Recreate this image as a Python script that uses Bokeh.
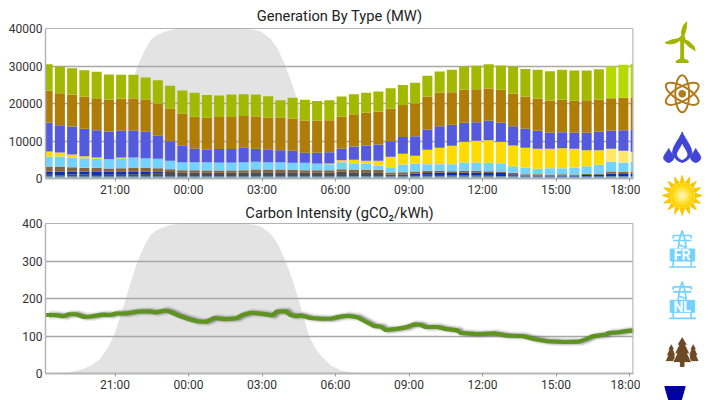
import numpy as np
from bokeh.plotting import figure
from bokeh.layouts import row, column
from bokeh.models import ColumnDataSource, FixedTicker, Span, Range1d
from bokeh.core.properties import value
from bokeh.embed import file_html
from bokeh.resources import INLINE

FONT = "Roboto"
tick_hours = [3, 6, 9, 12, 15, 18, 21, 24]
tick_labels = ["21:00", "00:00", "03:00", "06:00", "09:00", "12:00", "15:00", "18:00"]
bar_hours = [0.25, 0.75, 1.25, 1.75, 2.25, 2.75, 3.25, 3.75, 4.25, 4.75, 5.25, 5.75, 6.25, 6.75, 7.25, 7.75, 8.25,
             8.75, 9.25, 9.75, 10.25, 10.75, 11.25, 11.75, 12.25, 12.75, 13.25, 13.75, 14.25, 14.75, 15.25, 15.75,
             16.25, 16.75, 17.25, 17.75, 18.25, 18.75, 19.25, 19.75, 20.25, 20.75, 21.25, 21.75, 22.25, 22.75,
             23.25, 23.75, 24.25]

hydro = [550]*24 + [550]*15 + [500, 500, 450, 450, 450, 450, 450, 550, 550, 550]
coal = [450, 350, 520, 490, 390, 420, 460, 590, 640, 860, 1190, 1020, 1020, 960, 960, 980, 1050, 1100, 1150, 1150,
        1110, 1050, 1050, 1050, 1240, 1130, 1150, 1110, 500, 390, 370, 440, 390, 310, 290, 290, 160, 120, 160, 110,
        110, 120, 110, 70, 90, 80, 120, 80, 70]
pumped = [800, 950, 800, 800, 950, 800, 800, 700, 700, 400] + [0]*18 + [0, 150, 400, 500, 600, 600, 700, 700, 750, 800,
          400, 200, 200, 200, 150, 250, 400, 450, 600, 600, 650]
biomass = [1400, 1350, 1150, 1000, 950, 900, 950, 1000, 950, 950, 750, 650, 650, 620, 620, 600, 620, 750, 700, 700,
           650, 620, 620, 620, 700, 720, 700, 650, 550, 600, 550, 550, 500, 500, 500, 500, 500, 400, 400, 350, 350,
           300, 450, 300, 300, 350, 600, 550, 600]
imports = [2580, 2670, 2490, 2580, 2400, 2400, 2580, 2670, 2580, 2490, 2220, 2130, 2130, 2220, 2130, 2130, 2130, 2040,
           1960, 1960, 1870, 1960, 1780, 1600, 1870, 1690, 1510, 1070, 1420, 2040, 2040, 1780, 1780, 1870, 2220, 2220,
           2220, 2220, 1780, 1780, 1420, 1690, 1600, 1870, 2040, 2310, 2580, 2490, 2580]
solar = [1420, 1070, 890, 530, 360, 90, 270, 90] + [0]*15 + [180, 530, 890, 800, 1330, 2760, 2840, 2130, 3820, 4360,
         4890, 5510, 5780, 6050, 5690, 5510, 5250, 5330, 5160, 5330, 4980, 4270, 3910, 3470, 3110, 2670]
gas = [7650, 7290, 7470, 7290, 7290, 7380, 7110, 7200, 7020, 6130, 5250, 4360, 3560, 3290, 3640, 3640, 3820, 3470, 3290,
       3200, 3200, 2670, 2840, 3020, 3020, 3560, 4090, 4360, 4180, 4530, 5250, 5420, 5780, 5600, 5070, 4980, 5160, 5070,
       5160, 5070, 4800, 4270, 4270, 4270, 4620, 4890, 4800, 5510, 5870]
nuclear = [8530, 8530, 8530, 8530, 8530, 8450, 8530, 8530, 8530, 8530, 8620, 8530, 8530, 8530, 8530, 8530, 8530, 8620,
           8530, 8620, 8530, 8620, 8530, 8530, 8530, 8620, 8710, 8710, 8620, 8530, 8710, 8710, 8890, 8710, 8800, 8800,
           8620, 8800, 8710, 8530, 8530, 8620, 8620, 8530, 8710, 8530, 8710, 8620, 8620]
wind = [7110, 7110, 7020, 7110, 7020, 6760, 6400, 6310, 5960, 6310, 6130, 6220, 6400, 6130, 5690, 5960, 5780, 5870, 5780,
        4710, 5600, 5510, 5330, 5330, 5420, 5330, 5330, 5420, 5510, 5330, 5510, 5600, 5690, 5960, 6220, 6220, 6490, 6490,
        7200, 7380, 7730, 7820, 8000, 8090, 7910, 8180, 8450, 8800, 8980]

series_names = ["hydro", "coal", "pumped", "biomass", "imports", "solar", "gas", "nuclear", "wind"]
series_values = [hydro, coal, pumped, biomass, imports, solar, gas, nuclear, wind]
series_colors = ["#3f9bd6", "#4d4f52", "#0b2fb5", "#8a6538", "#73d2ff", "#ffdb00", "#535ade", "#b07c08", "#a3b800"]
forecast_colors = {"solar": "#ffe768", "wind": "#b6da00"}
forecast_bars = 3

day_hours = [0.18, 0.6, 1.05, 1.4, 1.73, 2.1, 2.41, 2.7, 2.95, 3.36, 3.65, 3.91, 4.2, 4.45, 4.7, 5.0, 5.3, 5.67, 6.2,
             7.85, 8.4, 8.67, 8.95, 9.35, 9.65, 9.96, 10.25, 10.48, 10.7, 10.92, 11.15, 11.39, 11.8, 12.2, 12.88, 13.5,
             24.2]
day_level = [0, 1, 3, 7, 13, 24, 40, 68, 100, 182, 245, 298, 340, 369, 382, 391, 397, 400, 400, 400, 399, 397, 392, 373,
             345, 300, 248, 200, 150, 100, 70, 49, 22, 9, 1, 0, 0]

ci_hours = [0.18, 0.5, 0.91, 1.11, 1.39, 1.73, 2.0, 2.48, 2.82, 3.02, 3.43, 3.91, 4.32, 4.65, 5.06, 5.27, 5.61, 5.96,
            6.36, 6.7, 6.89, 7.05, 7.46, 7.94, 8.19, 8.53, 9.01, 9.42, 9.59, 9.96, 10.16, 10.37, 10.57, 10.98, 11.39,
            11.8, 12.13, 12.48, 12.89, 13.29, 13.56, 13.84, 14.04, 14.52, 14.93, 15.19, 15.47, 15.67, 16.15, 16.49,
            16.97, 17.1, 17.78, 18.46, 19.0, 19.62, 20.09, 20.64, 21.32, 21.93, 22.2, 22.48, 23.02, 23.15, 23.56,
            23.84, 24.16]
ci_values = [156, 156, 153, 158, 158, 151, 152, 157, 156, 160, 160, 165, 166, 163, 168, 164, 154, 146, 139, 138, 143,
             148, 145, 147, 156, 162, 159, 155, 165, 166, 156, 153, 155, 148, 146, 146, 151, 154, 150, 136, 127, 125,
             116, 119, 124, 131, 130, 124, 124, 119, 115, 108, 105, 107, 101, 100, 92, 86, 84, 85, 91, 99, 104, 108,
             110, 113, 115]


def base(title, ymax, yticks, h, top, bottom, standoff):
    p = figure(width=640, height=h, frame_width=588, frame_height=150, output_backend="svg", toolbar_location=None,
               x_range=Range1d(0.163, 24.163), y_range=Range1d(0, ymax), title=title,
               min_border_left=45, min_border_right=7, min_border_top=top, min_border_bottom=bottom)
    p.title.align = "center"
    p.title.text_font = FONT
    p.title.text_font_size = "14.7px"
    p.title.text_font_style = "normal"
    p.title.text_color = "#222222"
    p.title.offset = 0
    p.title.standoff = standoff
    p.xaxis.ticker = FixedTicker(ticks=tick_hours)
    p.xaxis.major_label_overrides = dict(zip(tick_hours, tick_labels))
    p.yaxis.ticker = FixedTicker(ticks=yticks)
    for ax in (p.xaxis[0], p.yaxis[0]):
        ax.major_label_text_font = FONT
        ax.major_label_text_font_size = "12px"
        ax.major_label_text_color = "#333333"
        ax.minor_tick_line_color = None
        ax.minor_tick_in = 0
        ax.minor_tick_out = 0
        ax.axis_line_color = "#b5b5b5"
        ax.axis_line_width = 2
    p.xaxis.major_tick_line_color = "#999999"
    p.xaxis.major_tick_in = 0
    p.xaxis.major_tick_out = 3
    p.xaxis.major_label_standoff = 1
    p.yaxis.major_tick_line_color = None
    p.yaxis.major_tick_in = 0
    p.yaxis.major_tick_out = 0
    p.yaxis.major_label_standoff = 3
    p.yaxis.axis_line_width = 1.5
    p.xgrid.visible = False
    p.ygrid.ticker = FixedTicker(ticks=yticks[1:-1])
    p.ygrid.grid_line_color = "#a8a8a8"
    p.ygrid.grid_line_width = 1.5
    p.ygrid.level = "underlay"
    p.outline_line_color = None
    p.add_layout(Span(location=ymax, dimension="width", line_color="#666666", line_width=1.2))
    p.add_layout(Span(location=24.163, dimension="height", line_color="#bdbdbd", line_width=2.5))
    return p


p1 = base("Generation By Type (MW)", 40000, [0, 10000, 20000, 30000, 40000], 200, 28, 22, 7)
p1.varea(x=day_hours, y1=0, y2=[v * 100 for v in day_level], fill_color="#e3e3e3", level="image")
bottom = np.zeros(len(bar_hours))
for name, vals, col in zip(series_names, series_values, series_colors):
    v = np.array(vals, dtype=float)
    colors = [col] * len(v)
    if name in forecast_colors:
        colors[-forecast_bars:] = [forecast_colors[name]] * forecast_bars
    src = ColumnDataSource(dict(x=bar_hours, bottom=bottom, top=bottom + v, color=colors))
    p1.vbar(x="x", width=0.41, bottom="bottom", top="top", fill_color="color", line_color=None, source=src)
    bottom = bottom + v

p2 = base("Carbon Intensity (gCO\u2082/kWh)", 400, [0, 100, 200, 300, 400], 200, 23, 27, 3)
p2.varea(x=day_hours, y1=0, y2=day_level, fill_color="#e3e3e3", level="image")
shadow_x = [h + 0.12 for h in ci_hours]
p2.line(shadow_x, ci_values, line_color="#888888", line_alpha=0.14, line_width=9, line_join="round")
p2.line(shadow_x, ci_values, line_color="#555555", line_alpha=0.22, line_width=6.5, line_join="round")
p2.line(shadow_x, ci_values, line_color="#333333", line_alpha=0.3, line_width=4, line_join="round")
p2.line(ci_hours, ci_values, line_color="#5f9320", line_width=4.2, line_join="round")

# icon column, drawn in page pixels
ic = figure(width=82, height=400, output_backend="svg", toolbar_location=None, x_range=Range1d(640, 722),
            y_range=Range1d(400, 0), min_border=0, outline_line_color=None)
ic.axis.visible = False
ic.grid.visible = False
CX = 681.7


def drop(cx, tip, bot, hw):
    t = np.linspace(0, 1, 24)
    r = hw * np.sin(np.pi * t ** 1.7) ** 0.7
    ys = tip + (bot - tip) * t
    return list(cx + r) + list(cx - r[::-1]), list(ys) + list(ys[::-1])


def rotated(pts, cx, cy, deg):
    a = np.radians(deg)
    return ([cx + x * np.cos(a) - y * np.sin(a) for x, y in pts], [cy + x * np.sin(a) + y * np.cos(a) for x, y in pts])


# wind turbine
GR = "#a0b400"
blade = [(0, 0), (-2.2, -7), (-1.4, -14), (1.0, -17.5), (1.8, -10), (1.2, -3)]
for deg in (12, 129, 254):
    xs, ys = rotated(blade, CX, 38.3, deg)
    ic.patch(xs, ys, color=GR)
ic.circle([CX], [38.3], radius=2.8, color=GR)
ic.quad(left=[CX - 1.4], right=[CX + 1.4], top=[40], bottom=[60], color=GR)
ic.patch([CX - 6, CX - 2, CX + 2, CX + 6, CX + 6, CX - 6], [60.5, 58.5, 58.5, 60.5, 62, 62], color=GR)

# atom
BR = "#b07c1a"
for ang in (90, 30, -30):
    ic.ellipse([CX], [93.3], width=37, height=14, angle=np.radians(ang), fill_color=None, line_color=BR, line_width=2)
ic.circle([CX], [93.3], radius=3.4, color=BR)

# gas flames
BL = "#4045d8"
for cx, tip, bot, hw in [(CX, 131.5, 162, 9.5), (CX - 13.5, 148, 162, 5), (CX + 13.5, 148, 162, 5)]:
    xs, ys = drop(cx, tip, bot, hw)
    ic.patch(xs, ys, color=BL)
xs, ys = drop(CX, 144, 159, 4.8)
ic.patch(xs, ys, color="white")

# sun
for k in range(16):
    a = 2 * np.pi * k / 16
    ic.patch([CX + 13 * np.cos(a - 0.17), CX + 20 * np.cos(a), CX + 13 * np.cos(a + 0.17)],
             [195 + 13 * np.sin(a - 0.17), 195 + 20 * np.sin(a), 195 + 13 * np.sin(a + 0.17)], color="#f7c800")
for r, c in [(12, "#ffd500"), (9, "#ffdf33"), (6, "#ffe966"), (3, "#fff3a6")]:
    ic.circle([CX], [195], radius=r, color=c)

# interconnector pylons
PY = "#73d2ff"
for dy, lab in [(0, "FR"), (51.3, "NL")]:
    ic.multi_line([[CX, CX - 3, CX - 4], [CX, CX + 3, CX + 4], [CX - 9, CX + 9], [CX - 9, CX + 9], [CX - 4, CX + 4],
                   [CX - 9, CX - 9], [CX + 9, CX + 9], [CX - 9, CX - 9], [CX + 9, CX + 9], [CX - 13, CX + 14]],
                  [[230 + dy, 240 + dy, 248 + dy], [230 + dy, 240 + dy, 248 + dy], [235 + dy, 235 + dy], [240 + dy, 240 + dy],
                   [244 + dy, 247 + dy], [235 + dy, 238 + dy], [235 + dy, 238 + dy], [260 + dy, 266 + dy], [260 + dy, 266 + dy],
                   [266.5 + dy, 266.5 + dy]],
                  line_color=PY, line_width=1.7)
    ic.quad(left=[CX - 12], right=[CX + 12.5], top=[248.5 + dy], bottom=[260.5 + dy], color=PY)
    ic.text([CX], [254.8 + dy], text=[lab], text_align="center", text_baseline="middle", text_color="white",
            text_font=value(FONT), text_font_style="bold", text_font_size="14px")

# trees
TR = "#6b4a25"
for cx, top, bot, hw in [(CX - 11, 343, 361, 6), (CX + 11, 343, 361, 6), (CX, 336, 362, 9.5)]:
    ic.patch([cx, cx - hw * 0.55, cx - hw * 0.35, cx - hw * 0.8, cx - hw * 0.55, cx - hw, cx + hw, cx + hw * 0.55,
              cx + hw * 0.8, cx + hw * 0.35, cx + hw * 0.55],
             [top, top + (bot - top) * 0.33, top + (bot - top) * 0.33, top + (bot - top) * 0.66, top + (bot - top) * 0.66, bot,
              bot, top + (bot - top) * 0.66, top + (bot - top) * 0.66, top + (bot - top) * 0.33, top + (bot - top) * 0.33],
             fill_color=TR, line_color="white", line_width=0.8)
ic.quad(left=[CX - 1.8], right=[CX + 1.8], top=[360], bottom=[366], color=TR)

# pumped storage
ic.patch([664.3, 684.7, 680.7, 668.3], [386, 386, 400, 400], color="#0000a5")

layout = row(column(p1, p2, spacing=0), ic, spacing=0)
open("out.html", "w").write(file_html(layout, INLINE))
